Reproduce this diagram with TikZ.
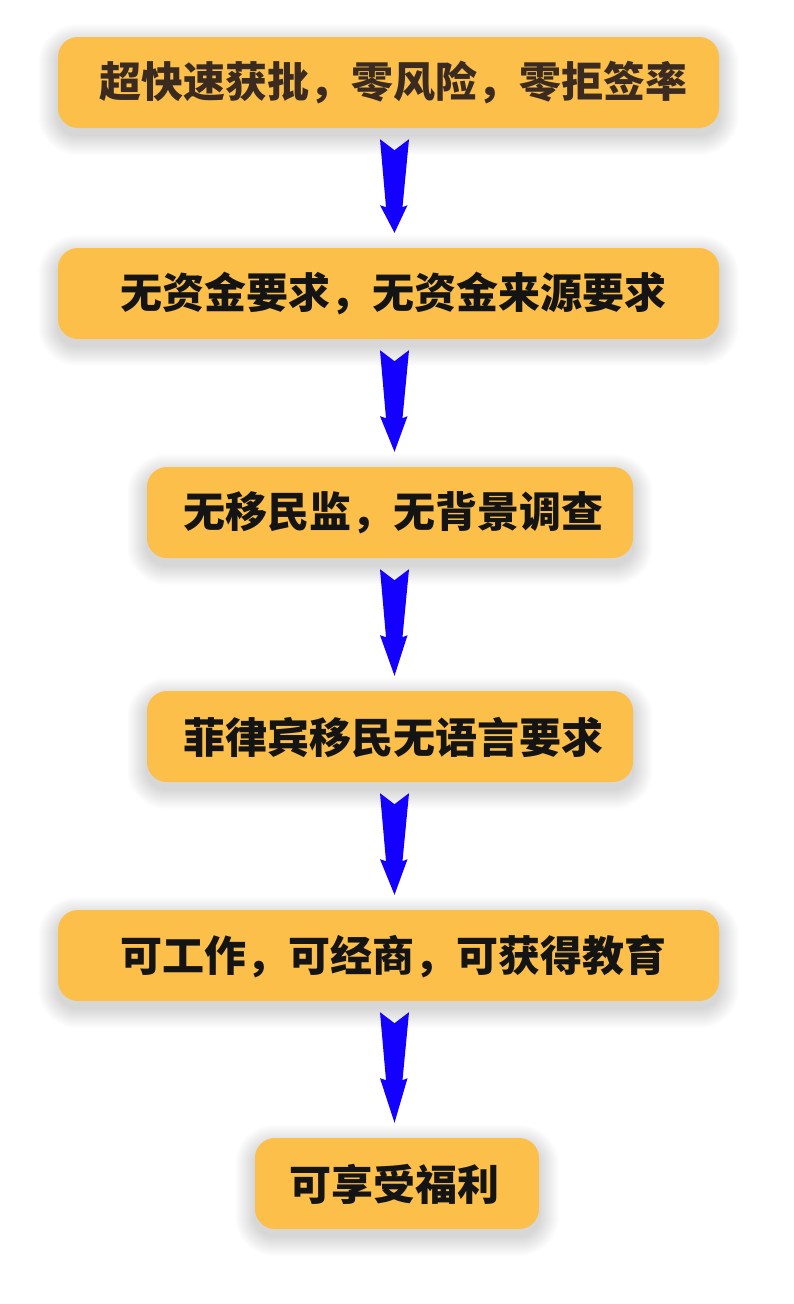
\documentclass[tikz,border=0pt]{standalone}
\usepackage{fontspec}
\newfontfamily\cjk{Noto Sans CJK SC}
\usetikzlibrary{calc,backgrounds}
\definecolor{boxfill}{HTML}{FBBF4A}
\definecolor{arrowblue}{HTML}{1400FF}
\definecolor{browntext}{HTML}{3B2A1F}
\definecolor{darktext}{HTML}{141414}
\tikzset{
  stepbox/.style={rounded corners=20pt, fill=boxfill, minimum height=91pt, inner sep=0pt},
  steptext/.style={inner sep=0pt, font=\cjk\bfseries\fontsize{42}{42}\selectfont, text=darktext},
  bigarrow/.style={fill=arrowblue},
  shadowlayer/.style={fill=black, fill opacity=0.009}
}
\newcommand\boxshadow[1]{%
  \foreach \s in {1,2,...,20} {
    \fill[shadowlayer, rounded corners={20pt+\s pt}]
      ($(#1.south west)+(-\s,7+\s)$) rectangle ($(#1.north east)+(\s,7-\s)$);
  }
}
\newcommand\flowarrow[2]{%
  \path (ax |- #1.south) ++(0,11) coordinate (#1t);
  \fill[bigarrow] (#1t) ++(-14.5,0) -- ++(14.5,11) -- ++(14.5,-11) -- ++(-6.5,68) -- ++(5,-2)
    -- ($(ax |- #2.north)+(0,-15)$) -- ($(#1t)+(-14.5,66)$) -- ($(#1t)+(-8.5,68)$) -- cycle;
}
\begin{document}
\begin{tikzpicture}[x=1pt,y=-1pt]
\useasboundingbox (0,0) rectangle (793,1304);
\coordinate (ax) at (394.5,0);
\node[stepbox, minimum width=661pt] (b1) at (388.5,82.5) {};
\node[stepbox, minimum width=661pt] (b2) at (388.5,293.5) {};
\node[stepbox, minimum width=486pt] (b3) at (390,512.5) {};
\node[stepbox, minimum width=486pt] (b4) at (390,736.5) {};
\node[stepbox, minimum width=661pt] (b5) at (388.5,955.5) {};
\node[stepbox, minimum width=284pt] (b6) at (397,1183.5) {};
\begin{scope}[on background layer]
  \fill[white] (0,0) rectangle (793,1304);
  \foreach \b in {b1,b2,b3,b4,b5,b6} { \boxshadow{\b} }
\end{scope}
\node[steptext, text=browntext] (t1) at (393,83) {超快速获批，零风险，零拒签率};
\node[steptext] (t2) at (393,294) {无资金要求，无资金来源要求};
\node[steptext] (t3) at (393,513) {无移民监，无背景调查};
\node[steptext] (t4) at (393,737) {菲律宾移民无语言要求};
\node[steptext] (t5) at (393,956) {可工作，可经商，可获得教育};
\node[steptext] (t6) at (394,1184) {可享受福利};
\flowarrow{b1}{b2}
\flowarrow{b2}{b3}
\flowarrow{b3}{b4}
\flowarrow{b4}{b5}
\flowarrow{b5}{b6}
\end{tikzpicture}
\end{document}
